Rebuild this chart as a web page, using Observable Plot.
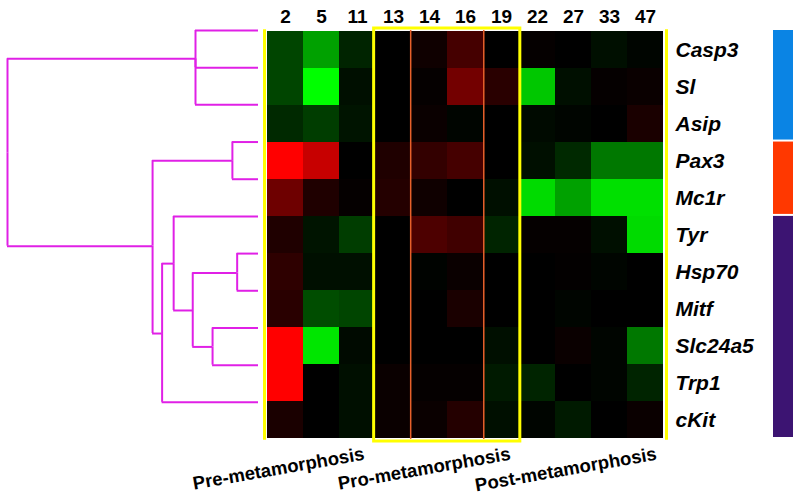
<!DOCTYPE html>
<html>
<head>
<meta charset="utf-8">
<script src="https://cdn.jsdelivr.net/npm/d3@7"></script>
<script src="https://cdn.jsdelivr.net/npm/@observablehq/plot@0.6"></script>
<style>
  html, body { margin: 0; padding: 0; background: #fff; }
  #chart { position: relative; width: 800px; height: 497px; overflow: hidden; font-family: "Liberation Sans", Arial, sans-serif; }
  #chart > svg, #chart > figure { position: absolute; top: 0; margin: 0; }
</style>
</head>
<body>
<div id="chart"></div>
<script>
// ---- data ----
const days = ["2", "5", "11", "13", "14", "16", "19", "22", "27", "33", "47"];
const genes = ["Casp3", "Sl", "Asip", "Pax3", "Mc1r", "Tyr", "Hsp70", "Mitf", "Slc24a5", "Trp1", "cKit"];
// expression (green = positive, red = negative), one row per gene, columns follow days
const expr = [
  [ 0.27,  0.63,  0.14,  0.00, -0.06, -0.27,  0.00, -0.02,  0.00,  0.06,  0.02], // Casp3
  [ 0.27,  1.00,  0.06,  0.00, -0.02, -0.45, -0.16,  0.78,  0.06, -0.02, -0.04], // Sl
  [ 0.16,  0.24,  0.08,  0.00, -0.04,  0.02,  0.00,  0.04,  0.02,  0.00, -0.10], // Asip
  [-1.00, -0.78,  0.00, -0.12, -0.20, -0.27,  0.00,  0.06,  0.16,  0.47,  0.47], // Pax3
  [-0.43, -0.12, -0.02, -0.14, -0.06,  0.00,  0.06,  0.86,  0.63,  0.88,  0.88], // Mc1r
  [-0.12,  0.08,  0.24,  0.00, -0.30, -0.25,  0.14, -0.02, -0.02,  0.06,  0.86], // Tyr
  [-0.18,  0.06,  0.06,  0.00,  0.01, -0.04,  0.00,  0.00, -0.01,  0.02,  0.00], // Hsp70
  [-0.16,  0.30,  0.27,  0.00,  0.00, -0.10,  0.00,  0.00,  0.02,  0.00,  0.00], // Mitf
  [-1.00,  0.90,  0.04,  0.00,  0.00,  0.00,  0.06,  0.00, -0.04,  0.02,  0.47], // Slc24a5
  [-1.00,  0.00,  0.06, -0.04, -0.02, -0.02,  0.10,  0.14,  0.00,  0.02,  0.14], // Trp1
  [-0.10,  0.00,  0.06, -0.04, -0.04, -0.14,  0.06,  0.02,  0.10,  0.00, -0.04]  // cKit
];
// developmental stages (column index ranges)
const stageNames = ["Pre-metamorphosis", "Pro-metamorphosis", "Post-metamorphosis"];
const stageStart = [0, 3, 7];
const stageEnd = [3, 7, 11];
// gene groups (row index ranges) for the side bar
const groupStart = [0, 3, 5];
const groupEnd = [3, 5, 11];
const groupColors = ["#0a84e4", "#ff3800", "#3c1472"];
// dendrogram: internal nodes (height, y in leaf units, children)
const nodeIds = ["F", "G", "E", "D", "C", "B", "BC", "A", "root"];
const nodeHeight = [0.085, 0.183, 0.262, 0.338, 0.384, 0.104, 0.422, 0.251, 1.0];
const nodeY = [6.52, 8.51, 7.53, 6.27, 8.15, 3.5, 5.8, 0.76, 3.3];
const nodeChildren = [
  ["Hsp70", "Mitf"], ["Slc24a5", "Trp1"], ["F", "G"], ["Tyr", "E"], ["D", "cKit"],
  ["Pax3", "Mc1r"], ["B", "C"], ["Casp3", "Sl", "Asip"], ["A", "BC"]
];

// ---- derived tables ----
const cells = [];
genes.forEach((g, i) => days.forEach((d, j) => cells.push({gene: g, day: d, v: expr[i][j]})));
const stages = stageNames.map((n, i) => ({name: n, start: stageStart[i], end: stageEnd[i]}));
const groups = groupStart.map((s, i) => ({start: s, end: groupEnd[i], color: groupColors[i]}));
const pos = {};
genes.forEach((g, i) => pos[g] = {h: 0, y: i});
nodeIds.forEach((id, i) => pos[id] = {h: nodeHeight[i], y: nodeY[i]});
const edges = [];
nodeIds.forEach((id, i) => nodeChildren[i].forEach(c => edges.push({ph: pos[id].h, py: pos[id].y, ch: pos[c].h, cy: pos[c].y})));

const W = 800, H = 497, mTop = 30, mBottom = 58, mLeft = 264, mRight = 134;
const chart = document.getElementById("chart");
const font = "Liberation Sans, Arial, sans-serif";

// heatmap
const heat = Plot.plot({
  width: W, height: H,
  marginLeft: mLeft, marginRight: mRight, marginTop: mTop, marginBottom: mBottom,
  style: {fontFamily: font, background: "transparent", color: "#000"},
  x: {domain: days, padding: 0, axis: null},
  y: {domain: genes, padding: 0, axis: null},
  color: {type: "linear", domain: [-1, 0, 1], range: ["#ff0000", "#000000", "#00ff00"], interpolate: "rgb", clamp: true},
  marks: [
    Plot.cell(cells, {x: "day", y: "gene", fill: "v", inset: 0}),
    Plot.axisX({anchor: "top", tickSize: 0, tickPadding: 8, fontSize: 19, fontWeight: "bold", label: null}),
    Plot.axisY({anchor: "right", tickSize: 0, tickPadding: 9, fontSize: 21, fontWeight: "bold", fontStyle: "italic", label: null})
  ]
});
heat.style.left = "0px";
chart.appendChild(heat);

// stage frames and labels
const frame = Plot.plot({
  width: W, height: H,
  marginLeft: mLeft, marginRight: mRight, marginTop: mTop, marginBottom: mBottom,
  style: {fontFamily: font, background: "transparent", overflow: "visible"},
  x: {domain: [0, days.length], axis: null},
  y: {domain: [0, genes.length], reverse: true, axis: null},
  marks: [
    Plot.ruleX([stageStart[1] + 1, stageEnd[1] - 1], {y1: 0, y2: genes.length, stroke: "#e8602a", strokeWidth: 1.5}),
    Plot.ruleX([0, days.length], {y1: -0.02, y2: genes.length + 0.02, stroke: "#ffff00", strokeWidth: 3}),
    Plot.rect(stages.filter((s, i) => i === 1), {x1: "start", x2: "end", y1: 0, y2: genes.length, fill: "none", stroke: "#ffff00", strokeWidth: 3, insetTop: -2, insetBottom: -2}),
    Plot.text(stages, {x: "end", y: genes.length, text: "name", textAnchor: "end", lineAnchor: "bottom", dx: -9, dy: 20, rotate: -10, fontSize: 18.5, fontWeight: "bold", fill: "#000"})
  ]
});
frame.style.left = "0px";
chart.appendChild(frame);

// dendrogram
const dendro = Plot.plot({
  width: 264, height: H,
  marginLeft: 7, marginRight: 6, marginTop: mTop, marginBottom: mBottom,
  style: {background: "transparent", overflow: "visible"},
  x: {domain: [0, 1], reverse: true, axis: null},
  y: {domain: [0, genes.length], reverse: true, axis: null},
  marks: [
    Plot.ruleY(edges, {y: "cy", x1: "ch", x2: "ph", stroke: "#e020e6", strokeWidth: 2}),
    Plot.ruleX(edges, {x: "ph", y1: "cy", y2: "py", stroke: "#e020e6", strokeWidth: 2})
  ]
});
dendro.style.left = "0px";
chart.appendChild(dendro);

// side color bar
const bar = Plot.plot({
  width: 20, height: H,
  marginLeft: 0, marginRight: 0, marginTop: mTop, marginBottom: mBottom,
  style: {background: "transparent", overflow: "visible"},
  x: {domain: [0, 1], axis: null},
  y: {domain: [0, genes.length], reverse: true, axis: null},
  marks: [
    Plot.rect(groups, {x1: 0, x2: 1, y1: "start", y2: "end", fill: "color", insetBottom: 2})
  ]
});
bar.style.left = "773px";
chart.appendChild(bar);
</script>
</body>
</html>
